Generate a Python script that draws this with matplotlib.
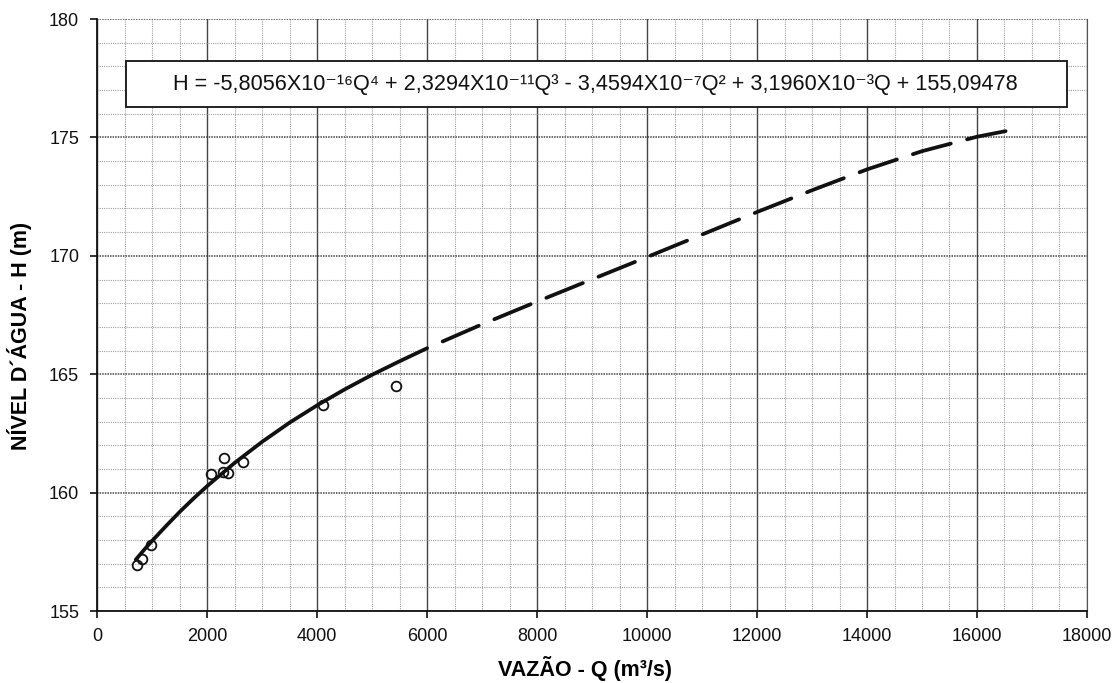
import matplotlib
matplotlib.use("Agg")
import matplotlib.pyplot as plt
from matplotlib.patches import Rectangle
from matplotlib.ticker import MultipleLocator

plt.rcParams['font.family'] = ['Liberation Sans', 'DejaVu Sans']

# measured points (open circles)
q_obs = [716, 807, 971, 2067, 2304, 2291, 2371, 2644, 4109, 5431]
h_obs = [156.95, 157.19, 157.79, 160.78, 161.48, 160.89, 160.82, 161.31, 163.70, 164.52]

# rating curve - solid part (fitted range)
q_fit = [700, 850, 1000, 1250, 1500, 1750, 2000, 2500, 3000, 3500, 4000, 4500, 5000, 5500, 6000]
h_fit = [157.17, 157.58, 157.97, 158.59, 159.19, 159.75, 160.28, 161.26, 162.15, 162.96,
         163.69, 164.36, 164.98, 165.55, 166.10]

# extrapolated part (dashed)
q_ext = [6000, 7000, 8000, 9000, 10000, 11000, 12000, 13000, 14000, 15000, 16000, 16550]
h_ext = [166.10, 167.11, 168.07, 169.01, 169.95, 170.90, 171.85, 172.77, 173.65, 174.42,
         175.03, 175.28]

equation = 'H = -5,8056X10⁻¹⁶Q⁴ + 2,3294X10⁻¹¹Q³ - 3,4594X10⁻⁷Q² + 3,1960X10⁻³Q + 155,09478'

fig = plt.figure(figsize=(11.17, 6.83), dpi=100)
ax = fig.add_axes([0.0871, 0.1054, 0.886, 0.8667])

ax.set_xlim(0, 18000)
ax.set_ylim(155, 180)
ax.xaxis.set_major_locator(MultipleLocator(2000))
ax.xaxis.set_minor_locator(MultipleLocator(500))
ax.yaxis.set_major_locator(MultipleLocator(5))
ax.yaxis.set_minor_locator(MultipleLocator(1))

# grid
ax.grid(which='minor', color='#a0a0a0', linestyle=(0, (1, 1)), linewidth=0.8)
ax.grid(which='major', axis='x', color='#444444', linestyle='-', linewidth=1.0)
ax.grid(which='major', axis='y', color='#444444', linestyle=(0, (1, 0.7)), linewidth=1.1)
ax.set_axisbelow(True)

ax.plot(q_fit, h_fit, color='#111111', linewidth=2.7, solid_capstyle='round', zorder=3)
ax.plot(q_ext, h_ext, color='#111111', linewidth=2.7, linestyle=(10.5, (10.5, 4.5)),
        dash_capstyle='round', zorder=3)
ax.plot(q_obs, h_obs, linestyle='none', marker='o', markersize=7, markerfacecolor='none',
        markeredgecolor='#111111', markeredgewidth=1.3, zorder=4)

# equation box
ax.add_patch(Rectangle((0.029, 0.851), 0.9505, 0.078, transform=ax.transAxes,
                       facecolor='white', edgecolor='#111111', linewidth=1.3, zorder=5))
ax.text(0.5035, 0.89, equation, transform=ax.transAxes, ha='center', va='center',
        fontsize=15.6, color='#111111', zorder=6)

for side in ['left', 'bottom']:
    ax.spines[side].set_color('#111111')
    ax.spines[side].set_linewidth(1.3)
ax.spines['top'].set_visible(False)
ax.spines['right'].set_color('#555555')
ax.spines['right'].set_linewidth(0.8)

ax.tick_params(which='major', direction='out', length=5, width=1.2, labelsize=13,
               colors='#111111')
ax.tick_params(axis='y', which='major', pad=8)
ax.tick_params(axis='x', which='major', pad=7.5)
ax.tick_params(which='minor', length=0)

fig.text(0.5237, 0.0205, 'VAZÃO - Q (m³/s)', fontsize=15.5, fontweight='bold',
         ha='center', va='center')
fig.text(0.0179, 0.508, 'NÍVEL D´ÁGUA - H (m)', fontsize=15.5, fontweight='bold',
         ha='center', va='center', rotation=90)

fig.savefig('out.png', dpi=100)
